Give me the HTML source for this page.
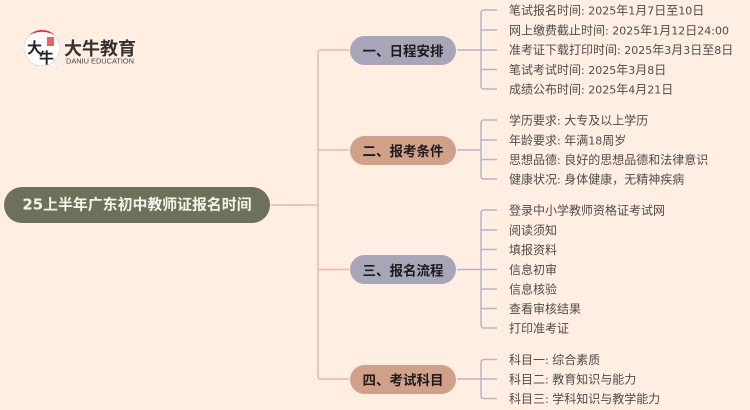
<!DOCTYPE html>
<html><head><meta charset="utf-8"><style>
html,body{margin:0;padding:0;background:#ffeee1}
svg{display:block}
text{font-family:"Liberation Sans","Noto Sans CJK SC",sans-serif}
.l text{font-size:12px;fill:#4d4d4d;font-family:"DejaVu Sans","Noto Sans CJK SC",sans-serif;dominant-baseline:central}
.l tspan{font-size:11px}
.l,.b,.r{filter:blur(.3px)}
.b text{font-size:13.5px;font-weight:700;fill:#1c1c1c;text-anchor:middle;dominant-baseline:central;font-family:"Noto Sans CJK SC",sans-serif}
</style></head><body>
<svg width="750" height="410" viewBox="0 0 750 410" xmlns="http://www.w3.org/2000/svg">
<rect width="750" height="410" fill="#ffeee1"/>
<g fill="none" stroke="#e5bca6" stroke-width="1.5">
<path d="M271 205H318"/>
<path d="M349 50H321Q318 50 318 53V376Q318 379 321 379H349"/>
<path d="M318 150H349M318 269.5H349"/>
</g>
<g fill="none" stroke="#b3b5cb" stroke-width="1.5">
<path d="M457 50H497M497 10H484Q481 10 481 13V86Q481 89 484 89H497M481 30H497M481 69.500H497"/>
<path d="M457 150H481M497 120H484Q481 120 481 123V176Q481 179 484 179H497M481 140H497M481 159.500H497"/>
<path d="M457 269.500H497M497 210H484Q481 210 481 213V325Q481 328 484 328H497M481 230H497M481 249.500H497M481 289H497M481 308.500H497"/>
<path d="M457 379H497M497 359.500H484Q481 359.500 481 362.500V395.500Q481 398.500 484 398.500H497"/>
</g>
<rect x="4" y="187" width="266" height="36" rx="18" fill="#6b7259"/>
<g class="r"><text x="137" y="204.500" text-anchor="middle" dominant-baseline="central" fill="#f6f3ea" font-size="14.900" font-weight="700" style="font-family:'DejaVu Sans','Noto Sans CJK SC',sans-serif">25上半年广东初中教师证报名时间</text></g>
<rect x="350" y="36" width="106" height="29" rx="14.500" fill="#a6a6b8"/>
<rect x="350" y="136" width="106" height="29" rx="14.500" fill="#d1a088"/>
<rect x="350" y="255" width="106" height="29" rx="14.500" fill="#a6a6b8"/>
<rect x="350" y="365" width="106" height="29" rx="14.500" fill="#d1a088"/>
<g class="b">
<text x="403" y="50">一、日程安排</text>
<text x="403" y="150">二、报考条件</text>
<text x="403" y="269.500">三、报名流程</text>
<text x="403" y="379">四、考试科目</text>
</g>
<g class="l">
<text x="509" y="10.500">笔试报名时间<tspan>: 2025</tspan>年<tspan>1</tspan>月<tspan>7</tspan>日至<tspan>10</tspan>日</text>
<text x="509" y="30.500">网上缴费截止时间<tspan>: 2025</tspan>年<tspan>1</tspan>月<tspan>12</tspan>日<tspan>24:00</tspan></text>
<text x="509" y="50">准考证下载打印时间<tspan>: 2025</tspan>年<tspan>3</tspan>月<tspan>3</tspan>日至<tspan>8</tspan>日</text>
<text x="509" y="70">笔试考试时间<tspan>: 2025</tspan>年<tspan>3</tspan>月<tspan>8</tspan>日</text>
<text x="509" y="89.500">成绩公布时间<tspan>: 2025</tspan>年<tspan>4</tspan>月<tspan>21</tspan>日</text>
<text x="509" y="120.500">学历要求<tspan>: </tspan>大专及以上学历</text>
<text x="509" y="140.500">年龄要求<tspan>: </tspan>年满<tspan>18</tspan>周岁</text>
<text x="509" y="160">思想品德<tspan>: </tspan>良好的思想品德和法律意识</text>
<text x="509" y="179.500">健康状况<tspan>: </tspan>身体健康，无精神疾病</text>
<text x="509" y="210.500">登录中小学教师资格证考试网</text>
<text x="509" y="230.500">阅读须知</text>
<text x="509" y="250">填报资料</text>
<text x="509" y="270">信息初审</text>
<text x="509" y="289.500">信息核验</text>
<text x="509" y="309">查看审核结果</text>
<text x="509" y="328.500">打印准考证</text>
<text x="509" y="360">科目一<tspan>: </tspan>综合素质</text>
<text x="509" y="379.500">科目二<tspan>: </tspan>教育知识与能力</text>
<text x="509" y="399">科目三<tspan>: </tspan>学科知识与教学能力</text>
</g>
<path d="M46 64L58 69L52 60Z" fill="#fff" stroke="#d8d8d8" stroke-width=".5"/>
<circle cx="42" cy="48" r="18" fill="#fff" stroke="#cfcfcf" stroke-width=".6"/>
<path d="M29.500 35A18 18 0 0 1 54.500 35Q42 28.500 29.500 35Z" fill="#e8262a"/>
<rect x="47" y="37" width="7" height="9" fill="#e0685f"/>
<text x="27" y="53" font-size="15" font-weight="700" fill="#222" style="font-family:'Noto Sans CJK SC',sans-serif">大</text>
<text x="39" y="63" font-size="15" font-weight="700" fill="#222" style="font-family:'Noto Sans CJK SC',sans-serif">牛</text>
<text x="64" y="55" font-size="18" font-weight="700" fill="#333" style="font-family:'Noto Sans CJK SC',sans-serif">大牛教育</text>
<text x="66" y="63.500" font-size="7" fill="#444" textLength="68" lengthAdjust="spacingAndGlyphs">DANIU EDUCATION</text>
</svg>
</body></html>
